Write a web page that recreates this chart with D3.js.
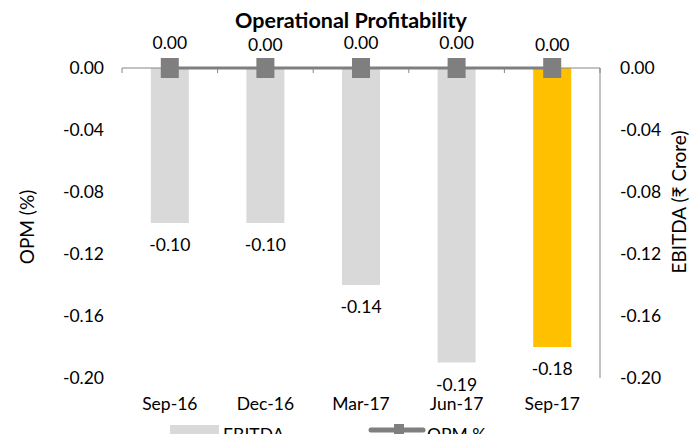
<!DOCTYPE html>
<html><head><meta charset="utf-8">
<script src="https://cdn.jsdelivr.net/npm/d3@7"></script>
<style>body{margin:0;background:#fff;}svg{display:block;}text{font-family:Lato,"Open Sans",sans-serif;fill:#000;}</style>
</head><body>
<svg id="c" width="691" height="434"></svg>
<script>
const categories = ["Sep-16","Dec-16","Mar-17","Jun-17","Sep-17"];
const ebitda = [-0.10,-0.10,-0.14,-0.19,-0.18];
const opm = [0.00,0.00,0.00,0.00,0.00];
const leftTicks = [0.00,-0.04,-0.08,-0.12,-0.16,-0.20];
const rightTicks = [0.00,-0.04,-0.08,-0.12,-0.16,-0.20];
const barColors = ["#d9d9d9","#d9d9d9","#d9d9d9","#d9d9d9","#ffc000"];

const svg = d3.select("#c");
const x0 = 122, x1 = 600, yTop = 68, yBot = 378;
const fs = 17.5;
const fmt = d => d3.format(".2f")(d).replace("\u2212","-");

const xc = d3.scalePoint().domain(categories).range([x0, x1]).padding(0.5);
const yL = d3.scaleLinear().domain([-0.20, 0]).range([yBot, yTop]);
const yR = d3.scaleLinear().domain([-0.20, 0]).range([yBot, yTop]);

// title
svg.append("text").attr("x", 351).attr("y", 28).attr("text-anchor","middle")
  .style("font-weight","bold").style("font-size","21.5px").text("Operational Profitability");

// bars
const bw = 38;
svg.selectAll("rect.bar").data(ebitda).enter().append("rect")
  .attr("x",(d,i)=>xc(categories[i]) - bw/2)
  .attr("y",d=>yR(0))
  .attr("width",bw)
  .attr("height",d=>yR(d)-yR(0))
  .attr("fill",(d,i)=>barColors[i]);

// bar labels
svg.selectAll("text.bl").data(ebitda).enter().append("text")
  .attr("x",(d,i)=>xc(categories[i]))
  .attr("y",d=>yR(d)+28)
  .attr("text-anchor","middle").style("font-size",fs+"px")
  .text(fmt);

// category axis line at zero
svg.append("line").attr("x1",x0).attr("x2",x1).attr("y1",yL(0)).attr("y2",yL(0))
  .attr("stroke","#868686").attr("stroke-width",1);
const bounds = d3.range(categories.length+1).map(i=>x0 + i*(x1-x0)/categories.length);
svg.selectAll("line.ct").data(bounds).enter().append("line")
  .attr("x1",d=>d).attr("x2",d=>d).attr("y1",yL(0)).attr("y2",yL(0)+5)
  .attr("stroke","#868686").attr("stroke-width",1);

// right axis line
svg.append("line").attr("x1",x1).attr("x2",x1).attr("y1",yR(0)).attr("y2",yR(-0.20))
  .attr("stroke","#868686").attr("stroke-width",1);

// left tick labels
svg.selectAll("text.lt").data(leftTicks).enter().append("text")
  .attr("x",104).attr("y",d=>yL(d)+6).attr("text-anchor","end").style("font-size",fs+"px")
  .text(fmt);
// right tick labels
svg.selectAll("text.rt").data(rightTicks).enter().append("text")
  .attr("x",620).attr("y",d=>yR(d)+6).attr("text-anchor","start").style("font-size",fs+"px")
  .text(fmt);

// OPM line + markers
const line = d3.line().x((d,i)=>xc(categories[i])).y(d=>yL(d));
svg.append("path").datum(opm).attr("d",line).attr("fill","none").attr("stroke","#7f7f7f").attr("stroke-width",3);
svg.selectAll("rect.m").data(opm).enter().append("rect")
  .attr("x",(d,i)=>xc(categories[i])-9).attr("y",d=>yL(d)-10)
  .attr("width",18).attr("height",20).attr("fill","#7f7f7f");
svg.selectAll("text.ol").data(opm).enter().append("text")
  .attr("x",(d,i)=>xc(categories[i])).attr("y",(d,i)=>yL(d)-(i===1||i===4?17:19))
  .attr("text-anchor","middle").style("font-size",fs+"px")
  .text(fmt);

// category labels
svg.selectAll("text.cl").data(categories).enter().append("text")
  .attr("x",d=>xc(d)).attr("y",410).attr("text-anchor","middle").style("font-size",fs+"px").text(d=>d);

// axis titles
svg.append("text").attr("transform","translate(34,227) rotate(-90)").attr("text-anchor","middle")
  .style("font-size","19px").text("OPM (%)");
svg.append("text").attr("transform","translate(686,202) rotate(-90)").attr("text-anchor","middle")
  .style("font-size","19px").text("EBITDA (₹ Crore)");

// legend
svg.append("rect").attr("x",170).attr("y",425).attr("width",49).attr("height",12).attr("fill","#d9d9d9");
svg.append("text").attr("x",223).attr("y",441).style("font-size",fs+"px").text("EBITDA");
svg.append("line").attr("x1",371).attr("x2",423).attr("y1",430).attr("y2",430).attr("stroke","#7f7f7f").attr("stroke-width",5).attr("stroke-linecap","round");
svg.append("rect").attr("x",394).attr("y",424).attr("width",10).attr("height",12).attr("fill","#7f7f7f");
svg.append("text").attr("x",427).attr("y",441).style("font-size",fs+"px").text("OPM %");
</script>
</body></html>
